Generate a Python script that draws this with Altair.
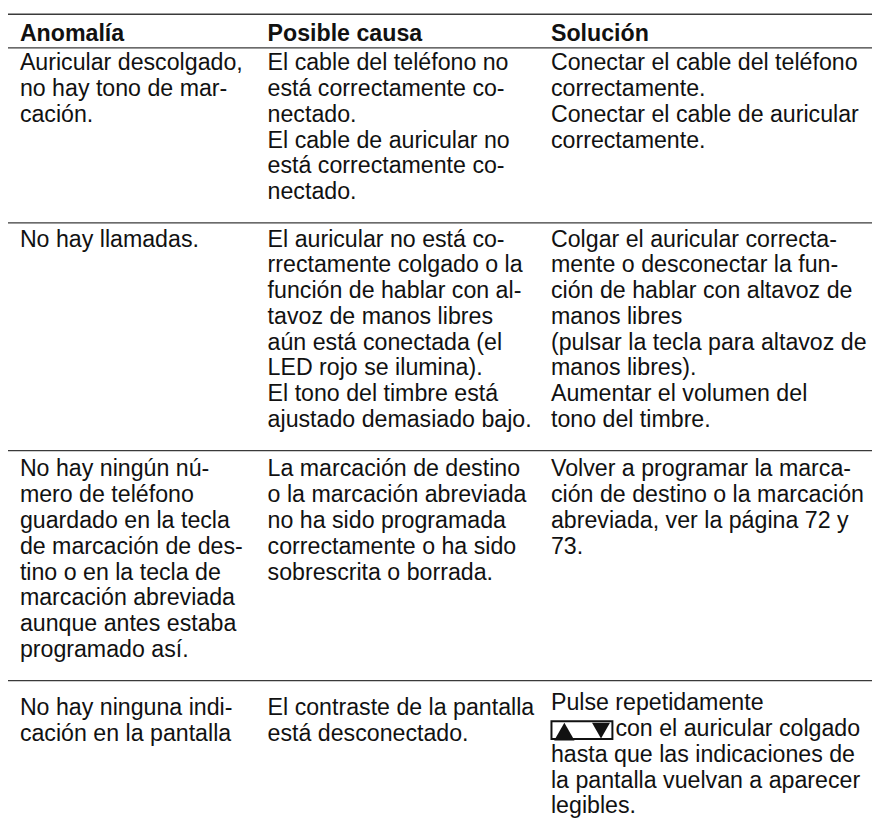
import altair as alt
import pandas as pd

# ---------------- data (table text) ----------------
headers = ["Anomalía", "Posible causa", "Solución"]

anomalia = [
    ["Auricular descolgado,", "no hay tono de mar-", "cación."],
    ["No hay llamadas."],
    ["No hay ningún nú-", "mero de teléfono", "guardado en la tecla",
     "de marcación de des-", "tino o en la tecla de", "marcación abreviada",
     "aunque antes estaba", "programado así."],
    ["No hay ninguna indi-", "cación en la pantalla"],
]

causa = [
    ["El cable del teléfono no", "está correctamente co-", "nectado.",
     "El cable de auricular no", "está correctamente co-", "nectado."],
    ["El auricular no está co-", "rrectamente colgado o la",
     "función de hablar con al-", "tavoz de manos libres",
     "aún está conectada (el", "LED rojo se ilumina).",
     "El tono del timbre está", "ajustado demasiado bajo."],
    ["La marcación de destino", "o la marcación abreviada",
     "no ha sido programada", "correctamente o ha sido",
     "sobrescrita o borrada."],
    ["El contraste de la pantalla", "está desconectado."],
]

solucion = [
    ["Conectar el cable del teléfono", "correctamente.",
     "Conectar el cable de auricular", "correctamente."],
    ["Colgar el auricular correcta-", "mente o desconectar la fun-",
     "ción de hablar con altavoz de", "manos libres",
     "(pulsar la tecla para altavoz de", "manos libres).",
     "Aumentar el volumen del", "tono del timbre."],
    ["Volver a programar la marca-", "ción de destino o la marcación",
     "abreviada, ver la página 72 y", "73."],
    ["Pulse repetidamente", "con el auricular colgado",
     "hasta que las indicaciones de", "la pantalla vuelvan a aparecer",
     "legibles."],
]

key_symbols = ["triangle-up", "triangle-down"]   # the ▲ ▼ key
key_at = (3, 1)                # (row, line) in "solucion" where the key sits

# ---------------- layout ----------------
W, H = 872, 826
COL_X = [12, 262, 548]
LINE = 26.0
FONT = "Liberation Sans"
FS = 23.4
TOP_RULE = 2.5
HEAD_BASE = 29.0
HEAD_RULE = 36.5
ROW_GAP_TOP = [22.5, 24.0, 26.0, 35.0]
COL_SHIFT = {(3, 2): -5.0}     # small vertical shift of a column in a row
ROW_GAP_BOTTOM = 24.0
KEY_W = 62
KEY_TOP, KEY_BOT = -15, 3
KEY_GAP = 3
KEY_SIZES = [420, 330]

columns = [anomalia, causa, solucion]

body_rows = []
rule_ys = [TOP_RULE, HEAD_RULE]
key_rows = []
key_box = []
top = HEAD_RULE
for r in range(len(anomalia)):
    first = top + ROW_GAP_TOP[r]
    last_base = first
    for c, col in enumerate(columns):
        y0 = first + COL_SHIFT.get((r, c), 0.0)
        for i, t in enumerate(col[r]):
            y = y0 + i * LINE
            x = COL_X[c]
            if c == 2 and (r, i) == key_at:
                key_box.append({"x": x + 0.5, "x2": x + KEY_W,
                                "y": y + KEY_TOP, "y2": y + KEY_BOT})
                key_rows.append({"x": x + 13.5, "y": y - 4.5,
                                 "shape": key_symbols[0], "s": KEY_SIZES[0]})
                key_rows.append({"x": x + KEY_W - 11.5, "y": y - 5.5,
                                 "shape": key_symbols[1], "s": KEY_SIZES[1]})
                x = x + KEY_W + KEY_GAP
            body_rows.append({"x": x, "y": y, "text": t})
            last_base = max(last_base, y)
    if r < len(anomalia) - 1:
        top = last_base + ROW_GAP_BOTTOM
        rule_ys.append(top)

head_df = pd.DataFrame({"x": COL_X, "y": [HEAD_BASE] * 3, "text": headers})
body_df = pd.DataFrame(body_rows)
rule_df = pd.DataFrame({"y": rule_ys})
key_df = pd.DataFrame(key_rows)
box_df = pd.DataFrame(key_box)

xs = alt.Scale(domain=[0, W], range=[0, W])
ys = alt.Scale(domain=[0, H], range=[0, H])
X = alt.X("x:Q", scale=xs, axis=None)
Y = alt.Y("y:Q", scale=ys, axis=None)

rules = alt.Chart(rule_df).mark_rule(color="#3a3a3a", strokeWidth=1.3).encode(
    y=alt.Y("y:Q", scale=ys, axis=None),
    x=alt.value(0), x2=alt.value(W + 8),
)

head = alt.Chart(head_df).mark_text(
    align="left", baseline="alphabetic", font=FONT, fontSize=FS,
    fontWeight="bold", color="#111111",
).encode(x=X, y=Y, text="text:N")

body = alt.Chart(body_df).mark_text(
    align="left", baseline="alphabetic", font=FONT, fontSize=FS,
    color="#111111",
).encode(x=X, y=Y, text="text:N")

box = alt.Chart(box_df).mark_rect(
    fill="white", stroke="#111111", strokeWidth=2,
).encode(
    x=X, x2="x2:Q",
    y=Y, y2="y2:Q",
)

keys = alt.Chart(key_df).mark_point(
    filled=True, color="#111111", opacity=1, strokeWidth=0,
).encode(
    x=X, y=Y,
    shape=alt.Shape("shape:N", scale=None, legend=None),
    size=alt.Size("s:Q", scale=None, legend=None),
)

chart = alt.layer(rules, head, body, box, keys).properties(
    width=W, height=H, padding=0, autosize="none", background="white",
).configure_view(stroke=None)

chart.save("out.html", embed_options={"renderer": "svg", "actions": False})
